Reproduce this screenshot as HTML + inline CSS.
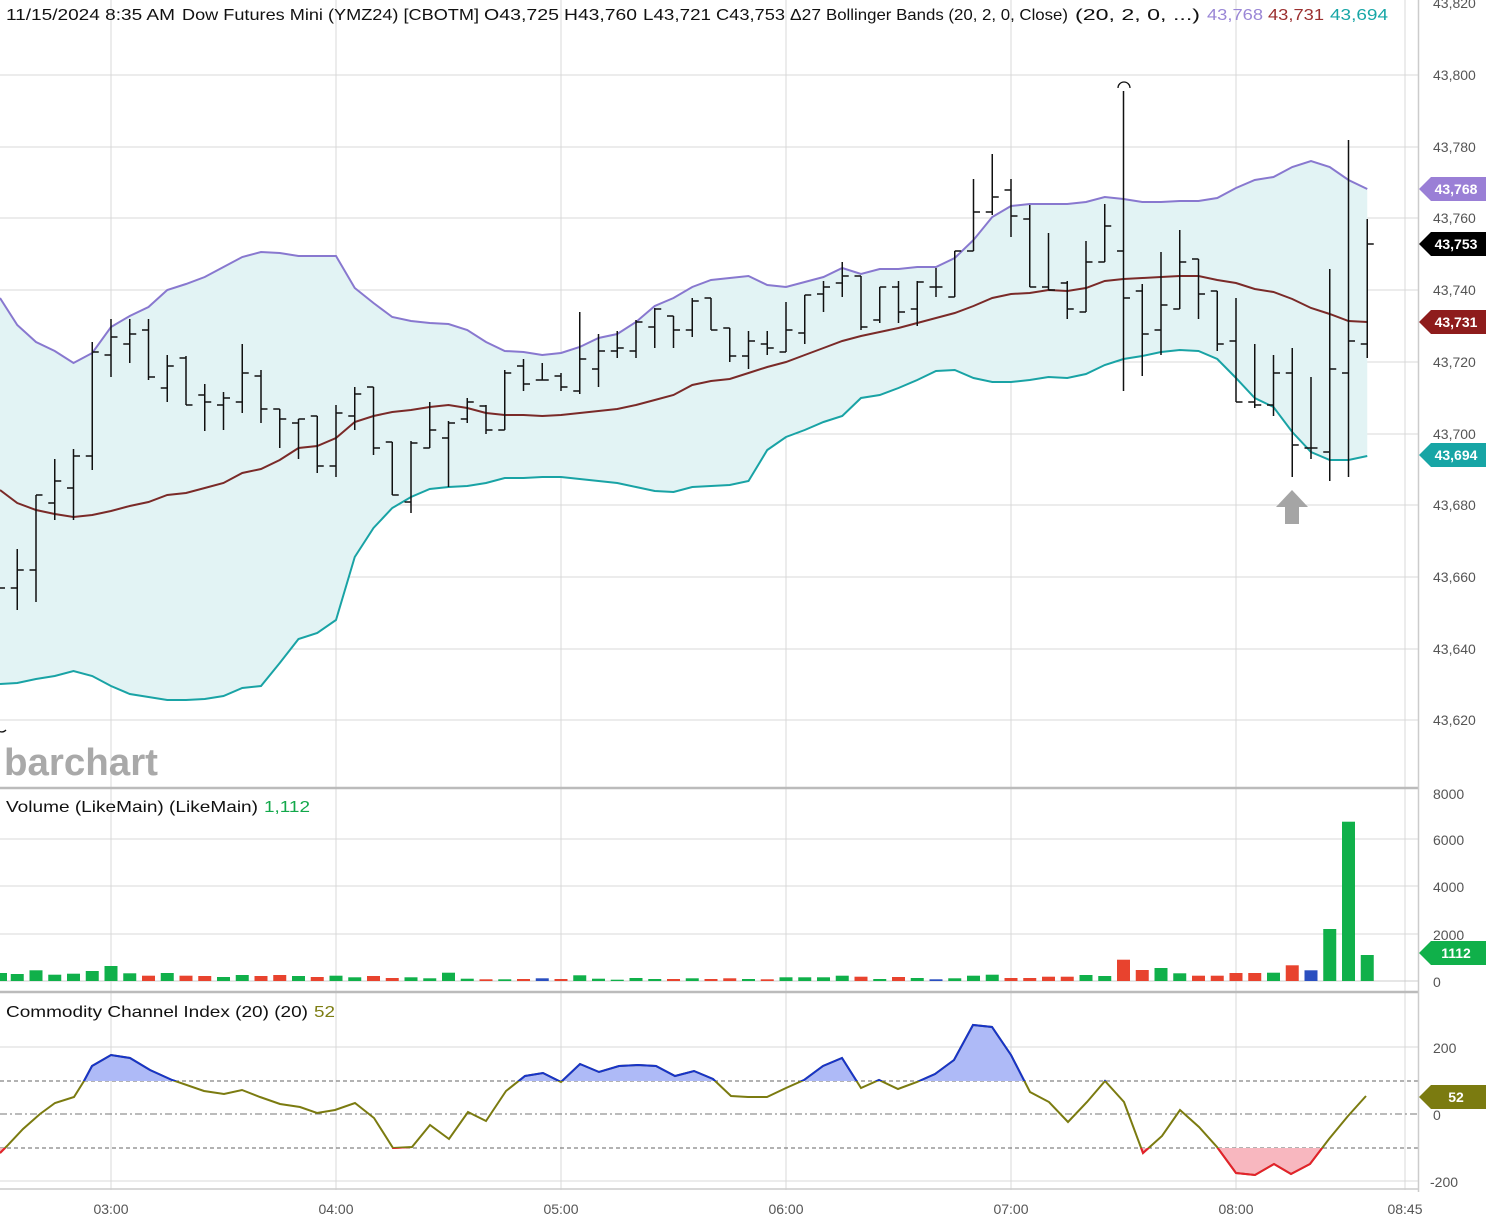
<!DOCTYPE html>
<html><head><meta charset="utf-8">
<style>
html,body{margin:0;padding:0;background:#fff;width:1486px;height:1226px;overflow:hidden}
svg{display:block}
text{font-family:"Liberation Sans",sans-serif}
</style></head>
<body>
<svg id="s" width="1486" height="1226" viewBox="0 0 1486 1226" xmlns="http://www.w3.org/2000/svg">
<rect width="1486" height="1226" fill="#fff"/>
<g id="grid" stroke="#d9d9d9" stroke-width="1"></g>
<g id="band"></g>
<g id="bars" stroke="#111" stroke-width="1.5" fill="none"></g>
<g id="vol"></g>
<g id="cci"></g>
<!-- separators -->
<line x1="0" y1="788" x2="1418" y2="788" stroke="#bbb" stroke-width="2.5"/>
<line x1="0" y1="992" x2="1418" y2="992" stroke="#bbb" stroke-width="2.5"/>
<line x1="0" y1="1189" x2="1418" y2="1189" stroke="#ccc" stroke-width="1.5"/>
<line x1="1418.5" y1="0" x2="1418.5" y2="1192" stroke="#ccc" stroke-width="1.5"/>
<!-- logo -->
<text x="4" y="775" font-size="38" font-weight="bold" fill="#a9a9a9" textLength="154" lengthAdjust="spacingAndGlyphs">barchart</text>
<!-- arrow -->
<path d="M1292,490 L1308,507 L1299,507 L1299,524 L1285,524 L1285,507 L1276,507 Z" fill="#a5a5a5"/>
<path d="M1118,88 A6,6 0 0 1 1130,88" fill="none" stroke="#111" stroke-width="1.3"/>
<path d="M-4,728 A6,6 0 0 0 6,730" fill="none" stroke="#111" stroke-width="1.3"/>
<!-- header -->
<g font-size="16" fill="#111">
<text x="6" y="20" textLength="169" lengthAdjust="spacingAndGlyphs">11/15/2024 8:35 AM</text>
<text x="182" y="20" textLength="297" lengthAdjust="spacingAndGlyphs">Dow Futures Mini (YMZ24) [CBOTM]</text>
<text x="484" y="20" textLength="75" lengthAdjust="spacingAndGlyphs">O43,725</text>
<text x="564" y="20" textLength="73" lengthAdjust="spacingAndGlyphs">H43,760</text>
<text x="643" y="20" textLength="68" lengthAdjust="spacingAndGlyphs">L43,721</text>
<text x="716" y="20" textLength="69" lengthAdjust="spacingAndGlyphs">C43,753</text>
<text x="790" y="20" textLength="31" lengthAdjust="spacingAndGlyphs">Δ27</text>
<text x="826" y="20" textLength="242" lengthAdjust="spacingAndGlyphs">Bollinger Bands (20, 2, 0, Close)</text>
<text x="1075" y="20" textLength="125" lengthAdjust="spacingAndGlyphs">(20, 2, 0, ...)</text>
<text x="1207" y="20" fill="#9a86d6" textLength="56" lengthAdjust="spacingAndGlyphs">43,768</text>
<text x="1268" y="20" fill="#9b2f2f" textLength="56" lengthAdjust="spacingAndGlyphs">43,731</text>
<text x="1330" y="20" fill="#17a6a6" textLength="58" lengthAdjust="spacingAndGlyphs">43,694</text>
<text x="6" y="812" textLength="252" lengthAdjust="spacingAndGlyphs">Volume (LikeMain)  (LikeMain)</text>
<text x="264" y="812" fill="#12a84a" textLength="46" lengthAdjust="spacingAndGlyphs">1,112</text>
<text x="6" y="1017" textLength="302" lengthAdjust="spacingAndGlyphs">Commodity Channel Index (20)  (20)</text>
<text x="314" y="1017" fill="#7d7d12" textLength="21" lengthAdjust="spacingAndGlyphs">52</text>
</g>
<g id="axis" font-size="14" fill="#555"></g>
<g id="badges" font-size="14" font-weight="bold" fill="#fff" text-anchor="middle"></g>
</svg>
<script>
var NS="http://www.w3.org/2000/svg";
function el(p,t,a,txt){var e=document.createElementNS(NS,t);for(var k in a)e.setAttribute(k,a[k]);if(txt!=null)e.textContent=txt;document.getElementById(p).appendChild(e);return e;}
function X(i){return 17.25+18.75*i;}
// grid
var py=[75,147,218,290,362,434,505,577,649,720];
py.forEach(function(y){el('grid','line',{x1:0,y1:y,x2:1418,y2:y});});
[111,336,561,786,1011,1236,1405].forEach(function(x){el('grid','line',{x1:x,y1:0,x2:x,y2:1190});});
[839,886,934].forEach(function(y){el('grid','line',{x1:0,y1:y,x2:1418,y2:y});});
el('grid','line',{x1:0,y1:981,x2:1418,y2:981,stroke:'#ccc'});
el('grid','line',{x1:0,y1:1047,x2:1418,y2:1047});
el('grid','line',{x1:0,y1:1181,x2:1418,y2:1181});
el('grid','line',{x1:0,y1:1081,x2:1418,y2:1081,stroke:'#666','stroke-dasharray':'4,3'});
el('grid','line',{x1:0,y1:1148,x2:1418,y2:1148,stroke:'#666','stroke-dasharray':'4,3'});
el('grid','line',{x1:0,y1:1114,x2:1418,y2:1114,stroke:'#777','stroke-dasharray':'7,3,2,3'});
// axis labels
var pl=["43,800","43,780","43,760","43,740","43,720","43,700","43,680","43,660","43,640","43,620"];
py.forEach(function(y,i){el('axis','text',{x:1433,y:y+5},pl[i]);});
el('axis','text',{x:1433,y:8},"43,820");
el('axis','text',{x:1433,y:799},"8000");
[[839,"6000"],[886,"4000"],[934,"2000"],[981,"0"],[1047,"200"],[1114,"0"],[1181,"-200"]].forEach(function(a){el('axis','text',{x:a[1]=="-200"?1430:1433,y:a[0]+6},a[1]);});
[[111,"03:00"],[336,"04:00"],[561,"05:00"],[786,"06:00"],[1011,"07:00"],[1236,"08:00"],[1405,"08:45"]].forEach(function(a){el('axis','text',{x:a[0],y:1214,'text-anchor':'middle'},a[1]);});
// bands
var up=[298,325,342,351,363,353,327,316,307,290,284,277,267,257,252,253,256,256,256,288,303,317,321,323,324,330,342,351,352,355,353,347,338,334,322,306,298,287,280,278,276,285,287,282,277,268,274,269,269,267,267,258,240,217,206,204,204,204,202,197,199,202,202,201,201,198,188,180,177,167,161,167,180,189];
var md=[490,503,510,514,517,515,511,506,502,495,493,488,483,473,469,460,448,446,438,422,416,412,410,407,405,408,413,415,415,416,415,413,411,409,405,400,395,385,381,379,373,367,362,355,348,341,336,332,328,323,318,313,306,298,294,293,290,291,288,281,279,278,277,276,276,280,283,289,292,299,308,314,321,322];
var lo=[684,683,679,676,671,676,686,694,697,700,700,699,696,688,686,663,639,633,620,557,528,508,497,489,487,486,483,478,478,477,477,479,481,483,487,491,492,487,486,485,481,450,437,430,422,416,398,395,388,380,371,370,378,382,382,380,377,378,374,365,359,356,352,350,351,359,378,398,407,432,452,460,460,456];
function pts(a){return a.map(function(y,j){return (j==0?0:X(j-1)).toFixed(2)+","+y;});}
var fillp=pts(up).concat(pts(lo).reverse()).join(" ");
el('band','polygon',{points:fillp,fill:'#e2f3f4'});
el('band','polyline',{points:pts(up).join(" "),fill:'none',stroke:'#8878cf','stroke-width':2});
el('band','polyline',{points:pts(md).join(" "),fill:'none',stroke:'#7a2a28','stroke-width':2});
el('band','polyline',{points:pts(lo).join(" "),fill:'none',stroke:'#19a3a5','stroke-width':2});
// bars
var B=[[549,610,588,570],[495,602,570,495],[459,520,503,481],[449,520,488,456],[342,470,456,352],[319,377,355,337],[319,363,344,334],[319,380,330,377],[355,402,388,366],[356,405,358,405],[384,431,395,402],[392,430,405,398],[344,413,402,373],[370,423,376,409],[409,448,409,419],[419,459,423,419],[416,473,416,466],[405,477,466,413],[387,430,416,394],[387,455,387,448],[442,495,442,495],[441,513,502,443],[402,448,448,430],[421,487,438,423],[398,423,419,402],[405,434,406,430],[370,430,430,373],[359,391,366,384],[363,380,380,380],[373,391,376,387],[312,394,391,359],[334,387,369,351],[331,358,351,348],[320,358,351,322],[308,348,327,309],[316,348,316,330],[298,337,330,301],[298,330,298,330],[328,362,328,356],[331,369,356,341],[331,355,344,348],[302,352,352,330],[295,344,333,295],[281,312,294,287],[262,297,283,276],[276,330,276,327],[287,323,320,287],[281,323,287,312],[281,326,309,282],[268,297,287,287],[251,297,297,251],[179,251,251,212],[154,215,212,197],[179,237,190,216],[205,287,219,287],[233,290,287,290],[281,319,283,309],[241,312,312,262],[204,262,262,226],[91,391,251,298],[284,376,291,334],[252,355,330,305],[230,309,309,262],[259,319,259,294],[291,351,291,344],[298,402,341,402],[344,408,402,405],[355,416,405,373],[348,477,373,445],[377,459,448,448],[269,481,452,369],[140,477,373,341],[219,358,344,244]];
var d="M0,588 L5,588 ";
B.forEach(function(b,i){var x=X(i).toFixed(2);d+="M"+x+","+b[0]+" L"+x+","+b[1]+" M"+(X(i)-6.5).toFixed(2)+","+b[2]+" L"+x+","+b[2]+" M"+x+","+b[3]+" L"+(X(i)+6.5).toFixed(2)+","+b[3]+" ";});
el('bars','path',{d:d});
// volume
var G='#10b04a',R='#e8432e',U='#2a4fc0';
var V=[[8,G],[7,G],[10.7,G],[6.3,G],[7.3,G],[10,G],[15,G],[7.7,G],[5.3,R],[8,G],[5.3,R],[5,R],[4,G],[6,G],[5,R],[6,R],[5,G],[4,R],[5.3,G],[3.7,G],[5,R],[3,R],[3.7,G],[2.7,G],[8.3,G],[2.3,G],[1.7,R],[1.7,G],[2,R],[2.7,U],[2,R],[5.7,G],[2.3,G],[1.3,G],[3,G],[2,G],[2,R],[2.7,G],[2,R],[2.7,R],[2,G],[1.7,R],[3.7,G],[3.7,G],[3.7,G],[5.3,G],[4.3,R],[2,G],[4,R],[3,G],[1.7,U],[2.7,G],[5.3,G],[6.3,G],[3,R],[3,R],[4.3,R],[4.3,R],[6,G],[5,G],[21.3,R],[11,R],[13,G],[7.7,G],[5.3,R],[5.3,R],[8,R],[8,R],[8.3,G],[15.7,R],[10.7,U],[52,G],[159.3,G],[26,G]];
V.forEach(function(v,j){var x=j==0?-6:X(j-1)-6.5;el('vol','rect',{x:x.toFixed(2),y:(981-v[0]).toFixed(1),width:13,height:v[0].toFixed(1),fill:v[1]});});
// CCI
var C=[[0,1153],[7,1146],[23,1129],[40,1114],[55,1103],[74,1097],[84,1081],[92,1066],[111,1055],[130,1058],[150,1070],[172,1080],[204,1091],[224,1094],[242,1090],[260,1097],[280,1104],[300,1107],[317,1113],[335,1110],[355,1103],[374,1118],[393,1148],[412,1147],[430,1125],[449,1139],[468,1112],[486,1121],[506,1091],[525,1076],[543,1073],[561,1082],[580,1064],[599,1072],[619,1066],[638,1065],[656,1066],[675,1076],[694,1071],[713,1079],[731,1096],[748,1097],[767,1097],[786,1088],[804,1080],[823,1066],[842,1058],[861,1088],[879,1080],[898,1089],[917,1082],[935,1074],[954,1060],[973,1025],[992,1027],[1011,1055],[1030,1092],[1049,1102],[1068,1122],[1087,1102],[1105,1081],[1124,1102],[1143,1153],[1162,1136],[1180,1110],[1199,1127],[1217,1147],[1236,1173],[1255,1175],[1274,1164],[1291,1174],[1310,1164],[1329,1139],[1348,1116],[1366,1096]];
var cp=C.map(function(p){return p[0]+","+p[1];}).join(" ");
var defs=el('cci','defs',{});
var c1=document.createElementNS(NS,'clipPath');c1.setAttribute('id','ca');defs.appendChild(c1);
var r1=document.createElementNS(NS,'rect');r1.setAttribute('x',0);r1.setAttribute('y',990);r1.setAttribute('width',1418);r1.setAttribute('height',91);c1.appendChild(r1);
var c2=document.createElementNS(NS,'clipPath');c2.setAttribute('id','cb');defs.appendChild(c2);
var r2=document.createElementNS(NS,'rect');r2.setAttribute('x',0);r2.setAttribute('y',1148);r2.setAttribute('width',1418);r2.setAttribute('height',50);c2.appendChild(r2);
el('cci','polygon',{points:cp+" 1366,1081 0,1081",fill:'#aebaf7','clip-path':'url(#ca)'});
el('cci','polygon',{points:cp+" 1366,1148 0,1148",fill:'#f8b7bf','clip-path':'url(#cb)'});
el('cci','polyline',{points:cp,fill:'none',stroke:'#7b7b10','stroke-width':2});
el('cci','polyline',{points:cp,fill:'none',stroke:'#1733c9','stroke-width':2,'clip-path':'url(#ca)'});
el('cci','polyline',{points:cp,fill:'none',stroke:'#e5202c','stroke-width':2,'clip-path':'url(#cb)'});
// badges
[[189,'#9a7fd6','43,768'],[244,'#000','43,753'],[322,'#8e1c1c','43,731'],[455,'#17a5a5','43,694'],[953,'#10b04a','1112'],[1097,'#7b7b10','52']].forEach(function(b){
 var y=b[0];el('badges','path',{d:"M1419,"+y+" L1431,"+(y-12)+" L1486,"+(y-12)+" L1486,"+(y+12)+" L1431,"+(y+12)+" Z",fill:b[1]});
 el('badges','text',{x:1456,y:y+5},b[2]);});
</script>
</body></html>
